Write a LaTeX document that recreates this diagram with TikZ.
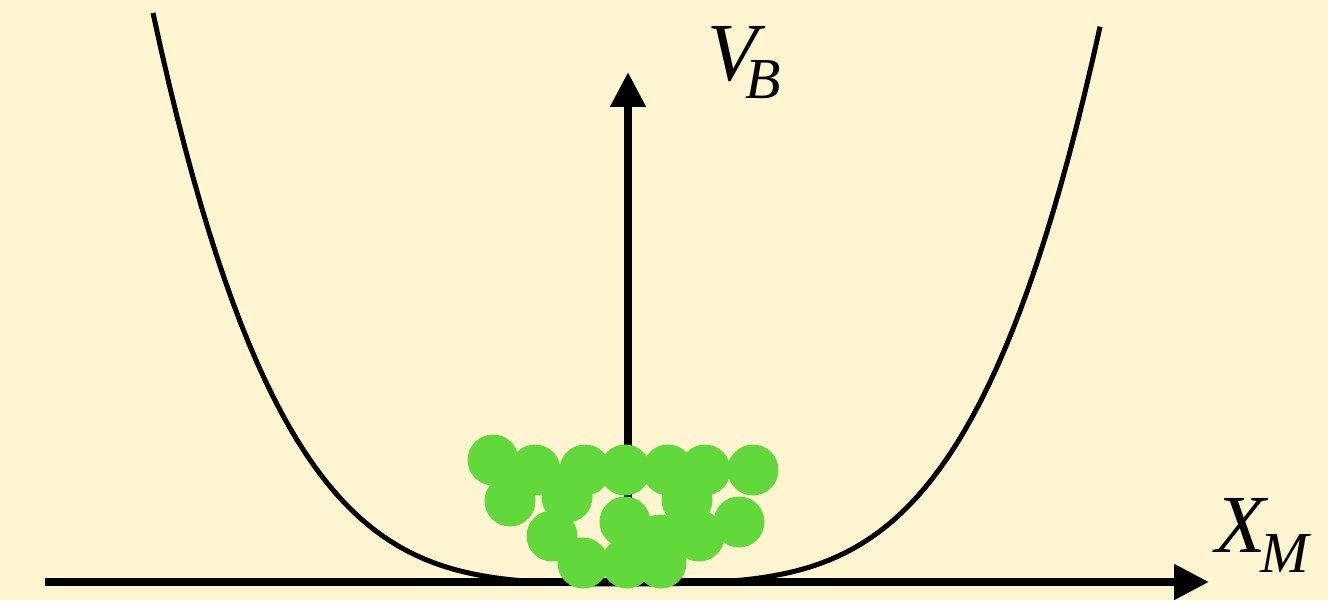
\documentclass[tikz,border=0pt]{standalone}
\usepackage{fontspec}
\usepackage{tikz}
\usetikzlibrary{arrows.meta}
\newfontfamily\labelfont{Liberation Serif}
\definecolor{PotBack}{HTML}{FFF5D0}
\definecolor{PotGreen}{HTML}{62D93A}
\tikzset{
  axisarrow/.style={-{Triangle[length=0.7cm,width=0.68cm]},line width=0.16cm,draw=black},
  wellline/.style={line width=0.1cm,draw=black},
  ball/.style={fill=PotGreen},
  axislabel/.style={inner sep=0pt,anchor=base west,font=\labelfont\itshape\fontsize{47}{47}\selectfont}
}
\begin{document}
\begin{tikzpicture}[x=0.02cm,y=0.02cm]
\fill[PotBack] (0,0) rectangle (1328,600);
\useasboundingbox (0,0) rectangle (1328,600);
% potential well
\draw[wellline] plot[domain=-1:0.995,samples=120] ({628+475*\x},{16+38*\x*\x+533*\x*\x*\x*\x});
% axes
\coordinate (xstart) at (45,18);
\coordinate (origin) at (628,18);
\coordinate (xend) at (1209,18);
\coordinate (ytop) at (628,528);
\draw[axisarrow] (xstart) -- (xend);
\draw[axisarrow] (origin) -- (ytop);
\node[axislabel] (vlabel) at (707,520) {V\kern-0.25cm\raisebox{-0.36cm}{\fontsize{33}{33}\selectfont B}};
\node[axislabel] (xlabel) at (1215,48) {X\kern-0.1cm\raisebox{-0.4cm}{\fontsize{33}{33}\selectfont M}};
% particles
\foreach \bx/\by in {493/140,535/130,585/130,625/130,668/130,705/130,753/130,
  510/99,567/103,687/100,739/78,552/64,625/78,699/64,660/60,583/37,627/37,661/37}
  \fill[ball] (\bx,\by) circle (25.5);
\end{tikzpicture}
\end{document}
